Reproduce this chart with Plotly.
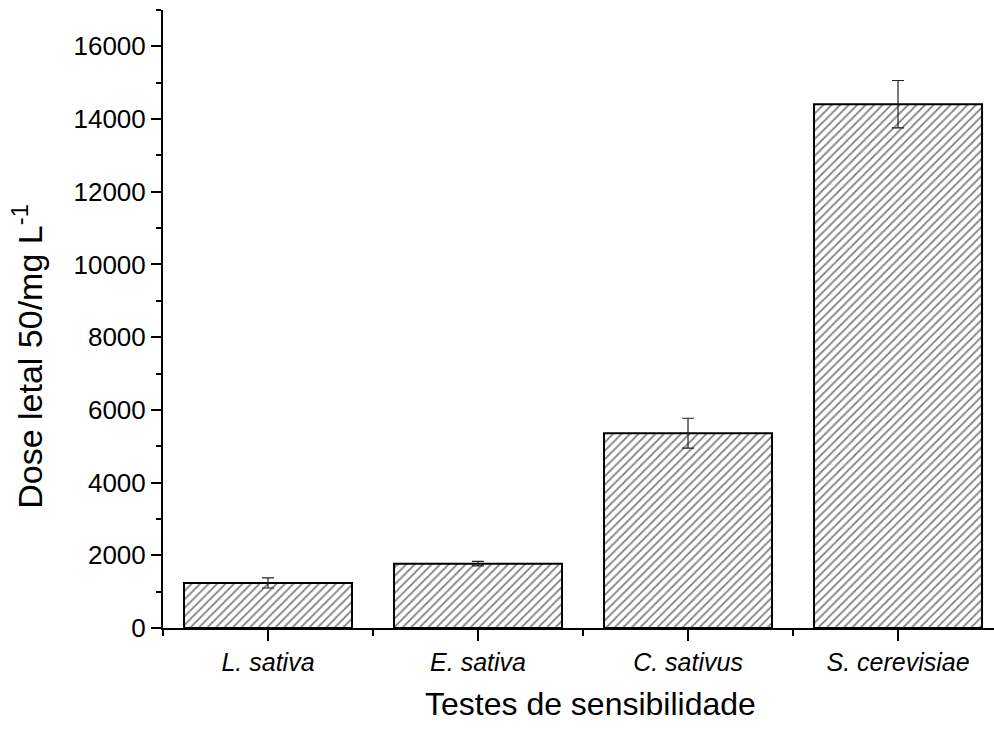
import plotly.graph_objects as go

# Lethal dose 50 per sensitivity test
categories = ["L. sativa", "E. sativa", "C. sativus", "S. cerevisiae"]
dl50 = [1240, 1770, 5360, 14410]
dl50_err = [140, 60, 410, 650]

positions = list(range(len(categories)))
tick_text = [f"<i>{c}</i>" for c in categories]

x_title = "Testes de sensibilidade"
y_title = "Dose letal 50/mg L<sup>-1</sup>"

font_family = "Arial, Liberation Sans, sans-serif"

fig = go.Figure()
fig.add_trace(go.Bar(
    x=positions,
    y=dl50,
    width=0.8,
    marker=dict(
        color="white",
        line=dict(color="black", width=2),
        pattern=dict(shape="/", fgcolor="black", bgcolor="white", size=6, solidity=0.3),
    ),
    error_y=dict(type="data", array=dl50_err, visible=True, color="#222222", thickness=1.2, width=6),
    showlegend=False,
))

fig.update_layout(
    width=994,
    height=731,
    margin=dict(l=163, r=0, t=10, b=103),
    paper_bgcolor="white",
    plot_bgcolor="white",
    font=dict(family=font_family, color="black", size=26),
)

fig.update_xaxes(
    range=[-0.5, 3.457],
    tickmode="array",
    tickvals=positions,
    ticktext=tick_text,
    ticks="outside",
    ticklen=11,
    tickwidth=2,
    tickcolor="black",
    showline=True,
    linecolor="black",
    linewidth=2,
    showgrid=False,
    zeroline=False,
    tickfont=dict(size=25),
    minor=dict(tickvals=[-0.5, 0.5, 1.5, 2.5, 3.5], ticks="outside", ticklen=6, tickwidth=2, tickcolor="black", showgrid=False),
)

fig.update_yaxes(
    range=[0, 17000],
    tickmode="linear",
    tick0=0,
    dtick=2000,
    tickformat="d",
    ticks="outside",
    ticklen=10,
    tickwidth=2,
    tickcolor="black",
    showline=True,
    linecolor="black",
    linewidth=2,
    showgrid=False,
    zeroline=False,
    tickfont=dict(size=26),
    minor=dict(dtick=1000, tick0=0, ticks="outside", ticklen=5, tickwidth=2, tickcolor="black", showgrid=False),
)

# Axis titles placed as annotations
fig.add_annotation(
    text=x_title, xref="paper", yref="paper", x=0.515, y=-0.123,
    xanchor="center", yanchor="middle", showarrow=False, font=dict(size=32),
)
fig.add_annotation(
    text=y_title, xref="paper", yref="paper", x=-0.164, y=0.44,
    xanchor="center", yanchor="middle", textangle=-90, showarrow=False, font=dict(size=34),
)

fig.write_html("out.html")
